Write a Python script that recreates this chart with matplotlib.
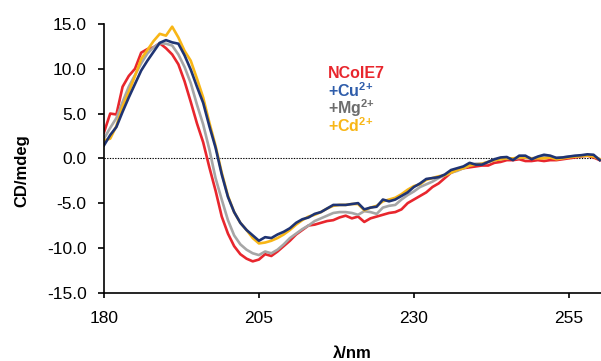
import numpy as np
import matplotlib
matplotlib.use("Agg")
import matplotlib.pyplot as plt

plt.rcParams["font.family"] = "Liberation Sans"
plt.rcParams["axes.unicode_minus"] = False
plt.rcParams["mathtext.fontset"] = "custom"
plt.rcParams["mathtext.rm"] = "Liberation Sans"
plt.rcParams["mathtext.bf"] = "Liberation Sans:bold"
plt.rcParams["mathtext.default"] = "bf"

# wavelength grid (nm)
wl = np.arange(180, 261)

ncole7 = [2.9, 5.0, 4.9, 8.0, 9.2, 10.0, 11.8, 12.2, 12.4, 12.85,
          12.3, 11.6, 10.5, 8.6, 6.3, 3.9, 1.8, -1.0, -3.6, -6.5,
          -8.4, -9.8, -10.7, -11.2, -11.5, -11.3, -10.7, -10.9, -10.4, -9.8,
          -9.2, -8.5, -8.0, -7.5, -7.4, -7.2, -7.0, -6.9, -6.6, -6.4,
          -6.7, -6.5, -7.1, -6.7, -6.5, -6.3, -6.1, -6.0, -5.7, -5.0,
          -4.6, -4.2, -3.8, -3.2, -2.8, -2.2, -1.6, -1.3, -1.1, -1.0,
          -0.9, -0.8, -0.8, -0.5, -0.4, -0.2, -0.2, -0.1, -0.3, -0.3,
          -0.2, -0.3, -0.2, -0.2, -0.1, 0.0, 0.1, 0.2, 0.3, 0.1, -0.2]

cu = [1.45, 2.6, 3.5, 5.2, 6.8, 8.3, 9.8, 10.9, 11.9, 12.9,
      13.2, 12.95, 12.8, 11.5, 9.9, 8.0, 6.2, 3.6, 1.2, -1.8,
      -4.3, -6.0, -7.2, -8.0, -8.6, -9.2, -8.8, -8.9, -8.5, -8.2,
      -7.8, -7.2, -6.8, -6.6, -6.2, -6.0, -5.6, -5.2, -5.2, -5.2,
      -5.1, -5.0, -5.7, -5.5, -5.4, -4.6, -4.8, -4.6, -4.2, -3.8,
      -3.2, -2.8, -2.3, -2.2, -2.1, -1.8, -1.3, -1.1, -0.9, -0.5,
      -0.7, -0.7, -0.4, -0.1, 0.1, 0.15, -0.2, 0.3, 0.3, -0.1,
      0.2, 0.4, 0.3, 0.05, 0.1, 0.2, 0.3, 0.35, 0.45, 0.4, -0.2]

mg = [2.2, 3.4, 4.5, 6.3, 8.0, 9.3, 10.6, 11.7, 12.4, 12.85,
      12.8, 12.6, 11.6, 10.2, 8.4, 6.0, 3.8, 1.0, -2.2, -4.6,
      -6.9, -8.6, -9.6, -10.2, -10.6, -10.8, -10.4, -10.6, -10.2, -9.6,
      -8.9, -8.4, -7.9, -7.5, -7.0, -6.7, -6.4, -6.1, -6.0, -6.0,
      -6.1, -6.3, -5.9, -6.0, -6.2, -5.5, -5.3, -5.2, -4.6, -4.1,
      -3.7, -3.2, -2.9, -2.6, -2.2, -1.9, -1.6, -1.4, -1.1, -0.8,
      -0.6, -0.6, -0.4, -0.2, -0.1, 0.0, -0.05, 0.05, 0.1, 0.0,
      0.1, 0.15, 0.1, 0.05, 0.1, 0.2, 0.2, 0.25, 0.3, 0.3, -0.1]

cd = [2.0, 2.2, 3.6, 5.8, 7.4, 9.2, 11.1, 12.1, 13.1, 13.9,
      13.7, 14.7, 13.5, 12.0, 10.9, 8.9, 6.8, 4.0, 1.4, -1.6,
      -4.2, -6.0, -7.2, -8.0, -8.9, -9.5, -9.4, -9.2, -8.9, -8.5,
      -8.0, -7.4, -6.9, -6.5, -6.3, -6.0, -5.6, -5.3, -5.2, -5.2,
      -5.1, -5.1, -5.8, -5.5, -5.3, -4.8, -4.6, -4.4, -4.0, -3.5,
      -3.1, -2.9, -2.4, -2.2, -2.0, -1.9, -1.6, -1.3, -1.1, -0.8,
      -0.7, -0.6, -0.4, -0.2, -0.1, 0.0, 0.0, 0.1, 0.1, 0.0,
      0.0, 0.0, 0.1, -0.1, 0.0, 0.1, 0.2, 0.25, 0.3, 0.2, -0.1]

labels = ["NColE7", "+Cu$^{2{+}}$", "+Mg$^{2{+}}$", "+Cd$^{2{+}}$"]
line_colors = ["#e8262d", "#1f3473", "#a6a6a6", "#f8b616"]
text_colors = ["#e8262d", "#2f5dab", "#6d6d6d", "#f8b616"]

fig = plt.figure(figsize=(6.01, 3.61), dpi=100)
ax = fig.add_axes([104 / 601, 1 - 292.7 / 361, 497 / 601, 268.7 / 361])

ax.axhline(0, color="k", lw=0.8, ls=(0, (1.2, 1.2)), zorder=1)
series = [ncole7, cu, mg, cd]
for i in [0, 2, 3, 1]:
    ax.plot(wl, series[i], color=line_colors[i], lw=1.9, zorder=2)

ax.set_xlim(180, 260.2)
ax.set_ylim(-15, 15)
ax.set_xticks([180, 205, 230, 255])
ax.set_yticks(np.arange(-15, 16, 5))
ax.yaxis.set_major_formatter(matplotlib.ticker.FormatStrFormatter("%.1f"))
for s in ["top", "right"]:
    ax.spines[s].set_visible(False)
for s in ["left", "bottom"]:
    ax.spines[s].set_linewidth(1.2)
ax.tick_params(axis="y", direction="out", length=4.5, width=1.2, pad=8, labelsize=12.5)
ax.tick_params(axis="x", direction="out", length=3.5, width=1.2, pad=10, labelsize=12.5)

fig.text(22 / 601, 1 - 171 / 361, "CD/mdeg", rotation=90, ha="center", va="center",
         fontsize=12, fontweight="bold")
fig.text(352 / 601, 1 - 357.5 / 361, "λ/nm", ha="center", va="baseline",
         fontsize=12, fontweight="bold")

baselines = [78.3, 96.7, 114.3, 132.3]
for lab, col, yb in zip(labels, text_colors, baselines):
    fig.text(328 / 601, 1 - yb / 361, lab, color=col, fontsize=11.5,
             fontweight="bold", va="baseline", ha="left")

fig.savefig("out.png", dpi=100)
